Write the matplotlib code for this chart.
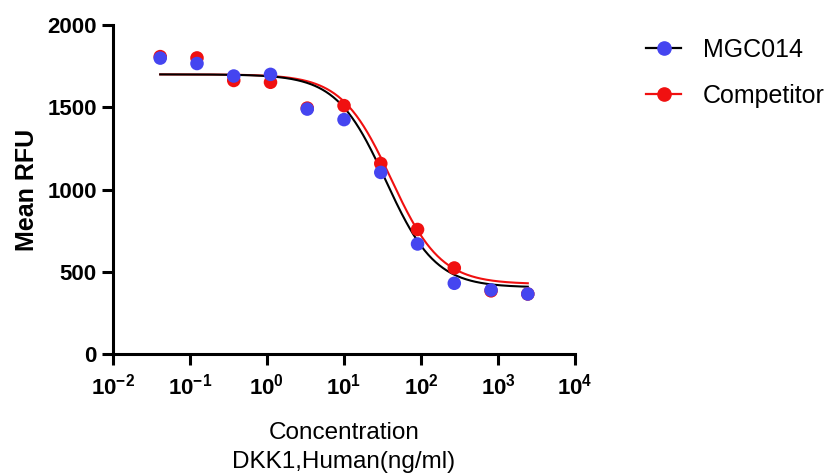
import numpy as np
import matplotlib
matplotlib.use("Agg")
import matplotlib.pyplot as plt
from matplotlib.ticker import FixedLocator, FixedFormatter

plt.rcParams.update({
    "font.family": ["Liberation Sans", "DejaVu Sans"],
    "mathtext.fontset": "custom",
    "mathtext.rm": "Liberation Sans",
    "mathtext.bf": "Liberation Sans:bold",
})

# ── Data ─────────────────────────────────────────────────────────────────────
conc = [0.04115, 0.1235, 0.3704, 1.111, 3.333, 10.0, 30.0, 90.0, 270.0, 810.0, 2430.0]
mgc014 = [1799, 1766, 1690, 1700, 1489, 1425, 1104, 669, 430, 389, 365]
competitor = [1808, 1800, 1663, 1652, 1495, 1510, 1158, 757, 523, 384, 365]

# 4PL fit parameters: (bottom, top, ic50, hill)
fit_mgc014 = (405, 1700, 35.0, 1.35)
fit_competitor = (425, 1700, 41.0, 1.35)

xticks = [1e-2, 1e-1, 1e0, 1e1, 1e2, 1e3, 1e4]
xtick_labels = [r"$\mathbf{10^{-2}}$", r"$\mathbf{10^{-1}}$", r"$\mathbf{10^{0}}$",
                r"$\mathbf{10^{1}}$", r"$\mathbf{10^{2}}$", r"$\mathbf{10^{3}}$",
                r"$\mathbf{10^{4}}$"]
yticks = [0, 500, 1000, 1500, 2000]

BLUE = "#4545f0"
RED = "#f01010"


def four_pl(x, bottom, top, ic50, hill):
    return bottom + (top - bottom) / (1 + (x / ic50) ** hill)


fig = plt.figure(figsize=(8.24, 4.75), dpi=100)
ax = fig.add_axes([0.137, 0.2547, 0.561, 0.6926])

xs = np.logspace(np.log10(conc[0]), np.log10(conc[-1]), 400)
ax.plot(xs, four_pl(xs, *fit_competitor), color=RED, lw=1.5, zorder=2)
ax.plot(xs, four_pl(xs, *fit_mgc014), color="black", lw=1.5, zorder=2)
ax.scatter(conc, competitor, s=95, color=RED, edgecolor="none", zorder=3)
ax.scatter(conc, mgc014, s=95, color=BLUE, edgecolor="none", zorder=4)

ax.set_xscale("log")
ax.set_xlim(1e-2, 1e4)
ax.set_ylim(0, 2000)
ax.xaxis.set_major_locator(FixedLocator(xticks))
ax.xaxis.set_major_formatter(FixedFormatter(xtick_labels))
ax.xaxis.set_minor_locator(FixedLocator([]))
ax.set_yticks(yticks)
ax.set_yticklabels([str(v) for v in yticks], fontweight="bold")

for s in ("top", "right"):
    ax.spines[s].set_visible(False)
for s in ("left", "bottom"):
    ax.spines[s].set_linewidth(2.2)
ax.tick_params(axis="both", width=2.2, length=8, direction="out")
ax.tick_params(axis="y", labelsize=16)
ax.tick_params(axis="x", labelsize=16, pad=6)

ax.set_ylabel("Mean RFU", fontsize=18, fontweight="bold", labelpad=6)
ax.set_xlabel("Concentration\nDKK1,Human(ng/ml)", fontsize=17.5, labelpad=16,
              linespacing=1.45)

# legend handles: line + dot
h1, = ax.plot([], [], color="black", lw=1.6, marker="o", ms=9.5,
              markerfacecolor=BLUE, markeredgecolor=BLUE)
h2, = ax.plot([], [], color=RED, lw=1.6, marker="o", ms=9.5,
              markerfacecolor=RED, markeredgecolor=RED)
fig.legend([h1, h2], ["MGC014", "Competitor"], loc="upper left",
           bbox_to_anchor=(0.757, 0.968), frameon=False, fontsize=18,
           handlelength=1.4, handletextpad=0.85, labelspacing=0.9)

fig.savefig("out.png", dpi=100)
